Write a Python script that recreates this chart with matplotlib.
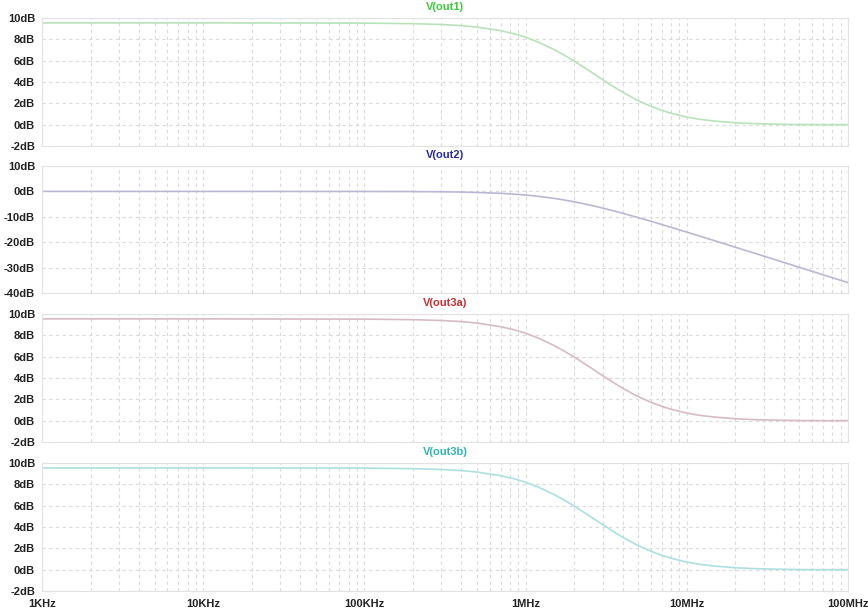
import matplotlib
matplotlib.use("Agg")
import matplotlib.pyplot as plt
from matplotlib.ticker import FixedLocator, NullFormatter, FixedFormatter

# Frequency points (Hz) of the AC sweep
freq_hz = [1e3, 1e4, 1e5, 2e5, 3e5, 4e5, 5e5, 7e5, 8.5e5, 1e6, 1.2e6, 1.5e6,
           1.75e6, 2e6, 2.5e6, 3e6, 3.5e6, 4e6, 5e6, 6e6, 7e6, 8e6, 1e7,
           1.2e7, 1.5e7, 2e7, 2.5e7, 3e7, 4e7, 5e7, 7e7, 1e8]

# Magnitudes in dB for each probed node
out1_db = [9.54, 9.54, 9.52, 9.47, 9.39, 9.29, 9.15, 8.81, 8.52, 8.20, 7.74,
           7.05, 6.49, 5.97, 5.02, 4.23, 3.58, 3.04, 2.25, 1.72, 1.34, 1.07,
           0.71, 0.50, 0.33, 0.18, 0.11, 0.07, 0.03, 0.01, 0.0, 0.0]
out2_db = [0.0, 0.0, -0.02, -0.07, -0.15, -0.26, -0.41, -0.76, -1.08, -1.43,
           -1.94, -2.74, -3.42, -4.09, -5.37, -6.55, -7.62, -8.60, -10.32,
           -11.78, -13.04, -14.15, -16.03, -17.58, -19.49, -21.97, -23.89,
           -25.47, -27.97, -29.90, -32.82, -35.92]
out3a_db = [9.54, 9.54, 9.52, 9.47, 9.39, 9.29, 9.15, 8.81, 8.52, 8.20, 7.74,
            7.05, 6.49, 5.97, 5.02, 4.23, 3.58, 3.04, 2.25, 1.72, 1.34, 1.07,
            0.71, 0.50, 0.33, 0.18, 0.11, 0.07, 0.03, 0.01, 0.0, 0.0]
out3b_db = [9.54, 9.54, 9.52, 9.47, 9.39, 9.29, 9.15, 8.81, 8.52, 8.20, 7.74,
            7.05, 6.49, 5.97, 5.02, 4.23, 3.58, 3.04, 2.25, 1.72, 1.34, 1.07,
            0.71, 0.50, 0.33, 0.18, 0.11, 0.07, 0.03, 0.01, 0.0, 0.0]

trace_names = ["V(out1)", "V(out2)", "V(out3a)", "V(out3b)"]
trace_data = [out1_db, out2_db, out3a_db, out3b_db]
trace_colors = ["#b8e2b8", "#b8b8d4", "#d8bac4", "#ace0e0"]
title_colors = ["#3ccc3c", "#2a2aa0", "#cc3030", "#30b4b4"]
y_ranges = [(-2, 10), (-40, 10), (-2, 10), (-2, 10)]
y_steps = [2, 10, 2, 2]

x_tick_vals = [1e3, 1e4, 1e5, 1e6, 1e7, 1e8]
x_tick_labels = ["1KHz", "10KHz", "100KHz", "1MHz", "10MHz", "100MHz"]

plt.rcParams["font.family"] = ["Liberation Sans", "DejaVu Sans"]

W, H = 868, 614
fig = plt.figure(figsize=(W / 100, H / 100), dpi=100)

left_px, right_px = 42, 848
pane_px = [(18, 146), (166, 293), (314, 442), (463, 591)]

grid_color = "#dadada"
dash = (0, (3, 3))

# vertical grid positions: every integer multiple within each decade
minor_x = []
for dec in [1e3, 1e4, 1e5, 1e6, 1e7]:
    for m in range(1, 10):
        minor_x.append(dec * m)
minor_x.append(1e8)

for i, (top, bot) in enumerate(pane_px):
    ax = fig.add_axes([left_px / W, 1 - bot / H, (right_px - left_px) / W,
                       (bot - top) / H])
    ax.set_xscale("log")
    ax.set_xlim(1e3, 1e8)
    lo, hi = y_ranges[i]
    ax.set_ylim(lo, hi)

    for xv in minor_x:
        ax.axvline(xv, color=grid_color, lw=0.8, ls=dash, zorder=0)
    yt = list(range(lo, hi + 1, y_steps[i]))
    for yv in yt:
        ax.axhline(yv, color=grid_color, lw=0.8, ls=dash, zorder=0)

    ax.plot(freq_hz, trace_data[i], color=trace_colors[i], lw=1.2, zorder=2,
            solid_joinstyle="round")

    ax.yaxis.set_major_locator(FixedLocator(yt))
    ax.set_yticklabels([f"{v}dB" for v in yt])
    ax.tick_params(axis="y", length=0, pad=5, labelsize=8, labelcolor="#222222")
    for lab in ax.get_yticklabels():
        lab.set_fontweight("bold")

    ax.xaxis.set_major_locator(FixedLocator(x_tick_vals))
    ax.xaxis.set_minor_formatter(NullFormatter())
    ax.tick_params(axis="x", which="both", length=0)
    if i == 3:
        ax.xaxis.set_major_formatter(FixedFormatter(x_tick_labels))
        ax.tick_params(axis="x", labelsize=8, labelcolor="#222222", pad=6)
        for lab in ax.get_xticklabels():
            lab.set_fontweight("bold")
    else:
        ax.xaxis.set_major_formatter(NullFormatter())

    for sp in ax.spines.values():
        sp.set_color("#e2e2e2")
        sp.set_linewidth(0.8)

    ax.text(0.5, 1.0 + 6 / (bot - top), trace_names[i], transform=ax.transAxes,
            ha="center", va="bottom", fontsize=8, fontweight="bold",
            color=title_colors[i])

fig.savefig("out.png", dpi=100, facecolor="white")
